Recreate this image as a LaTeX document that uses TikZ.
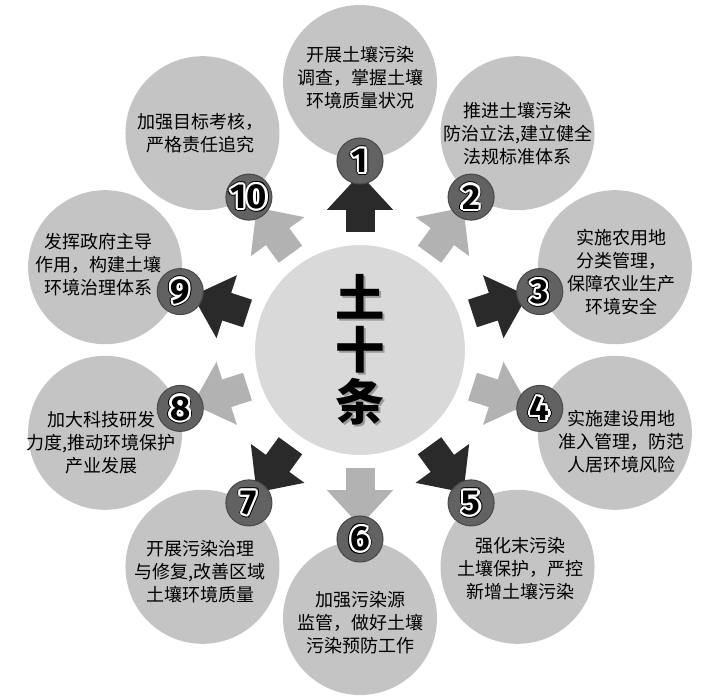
\documentclass[tikz,border=0pt]{standalone}
\usepackage{fontspec}
\newfontfamily\cjk{Noto Sans CJK SC}
\newfontfamily\numfont{Fira Sans}
\usetikzlibrary{arrows.meta,calc,backgrounds}
\definecolor{hubgray}{RGB}{217,217,217}
\definecolor{petalgray}{RGB}{196,196,196}
\definecolor{badgegray}{RGB}{98,98,98}
\definecolor{darkspoke}{RGB}{42,42,42}
\definecolor{lightspoke}{RGB}{178,178,178}
\tikzset{
  hubdisc/.style={circle,fill=hubgray,draw=white,line width=3pt,minimum size=160.5pt,inner sep=0pt},
  hubtext/.style={font=\cjk\bfseries\fontsize{37}{39}\selectfont,align=center,text=black},
  petal/.style={circle,fill=petalgray,minimum size=115.5pt,inner sep=0pt},
  petaltext/.style={font=\cjk\fontsize{13.5}{17.25}\selectfont,align=center,inner sep=0pt},
  badge/.style={circle,fill=badgegray,draw=badgegray!75!black,line width=0.8pt,minimum size=34.5pt,inner sep=0pt},
  numtext/.style={font=\numfont\bfseries\fontsize{26}{26}\selectfont,inner sep=0pt,text=#1},
  numtext/.default=black,
  spoke/.style={line width=21.75pt,draw=#1,-{Triangle[length=27pt,width=48pt]},
    shorten <=7pt,shorten >=-8pt},
}
\begin{document}
\begin{tikzpicture}[x=0.75pt,y=0.75pt]
  \useasboundingbox (-360,-349) rectangle (352,350);
  \node[hubdisc] (hub) at (0,0) {};
  \node[hubtext,text=black!40] (hubshade) at ($(hub)+(2,-2)$) {土\\十\\条};
  \node[hubtext] (hubtitle) at (hub) {土\\十\\条};
  % ten petals with numbered badges
  \foreach \i/\dx/\dy/\txt [evaluate=\i as \a using 126-36*\i] in {
      1/0/4/{开展土壤污染\\调查，掌握土壤\\环境质量状况},
      2/0/0/{推进土壤污染\\防治立法,建立健全\\法规标准体系},
      3/7/-5/{实施农用地\\分类管理，\\保障农业生产\\环境安全},
      4/7/-9/{实施建设用地\\准入管理，防范\\人居环境风险},
      5/3/-2/{强化末污染\\土壤保护，严控\\新增土壤污染},
      6/0/-5/{加强污染源\\监管，做好土壤\\污染预防工作},
      7/-2/-5/{开展污染治理\\与修复,改善区域\\土壤环境质量},
      8/-4/-10/{加大科技研发\\力度,推动环境保护\\产业发展},
      9/-7/3/{发挥政府主导\\作用，构建土壤\\环境治理体系},
      10/-2/0/{加强目标考核，\\严格责任追究}}{
    \node[petal] (c\i) at (\a:268) {};
    \node[petaltext] (t\i) at ($(c\i)+(\dx,\dy)$) {\txt};
    \node[badge] (b\i) at (\a:189) {};
    \foreach \h in {0,30,...,330}
      \node[numtext] at ($(b\i)+(\h:3.2)$) {\i};
    \foreach \h in {0,30,...,330}
      \node[numtext=white] at ($(b\i)+(\h:2.2)$) {\i};
    \node[numtext] (n\i) at (b\i) {\i};
  }
  \begin{scope}[on background layer]
    \foreach \i in {1,3,5,7,9} \draw[spoke=darkspoke] (hub) -- (b\i);
    \foreach \i in {2,4,6,8,10} \draw[spoke=lightspoke] (hub) -- (b\i);
  \end{scope}
\end{tikzpicture}
\end{document}
